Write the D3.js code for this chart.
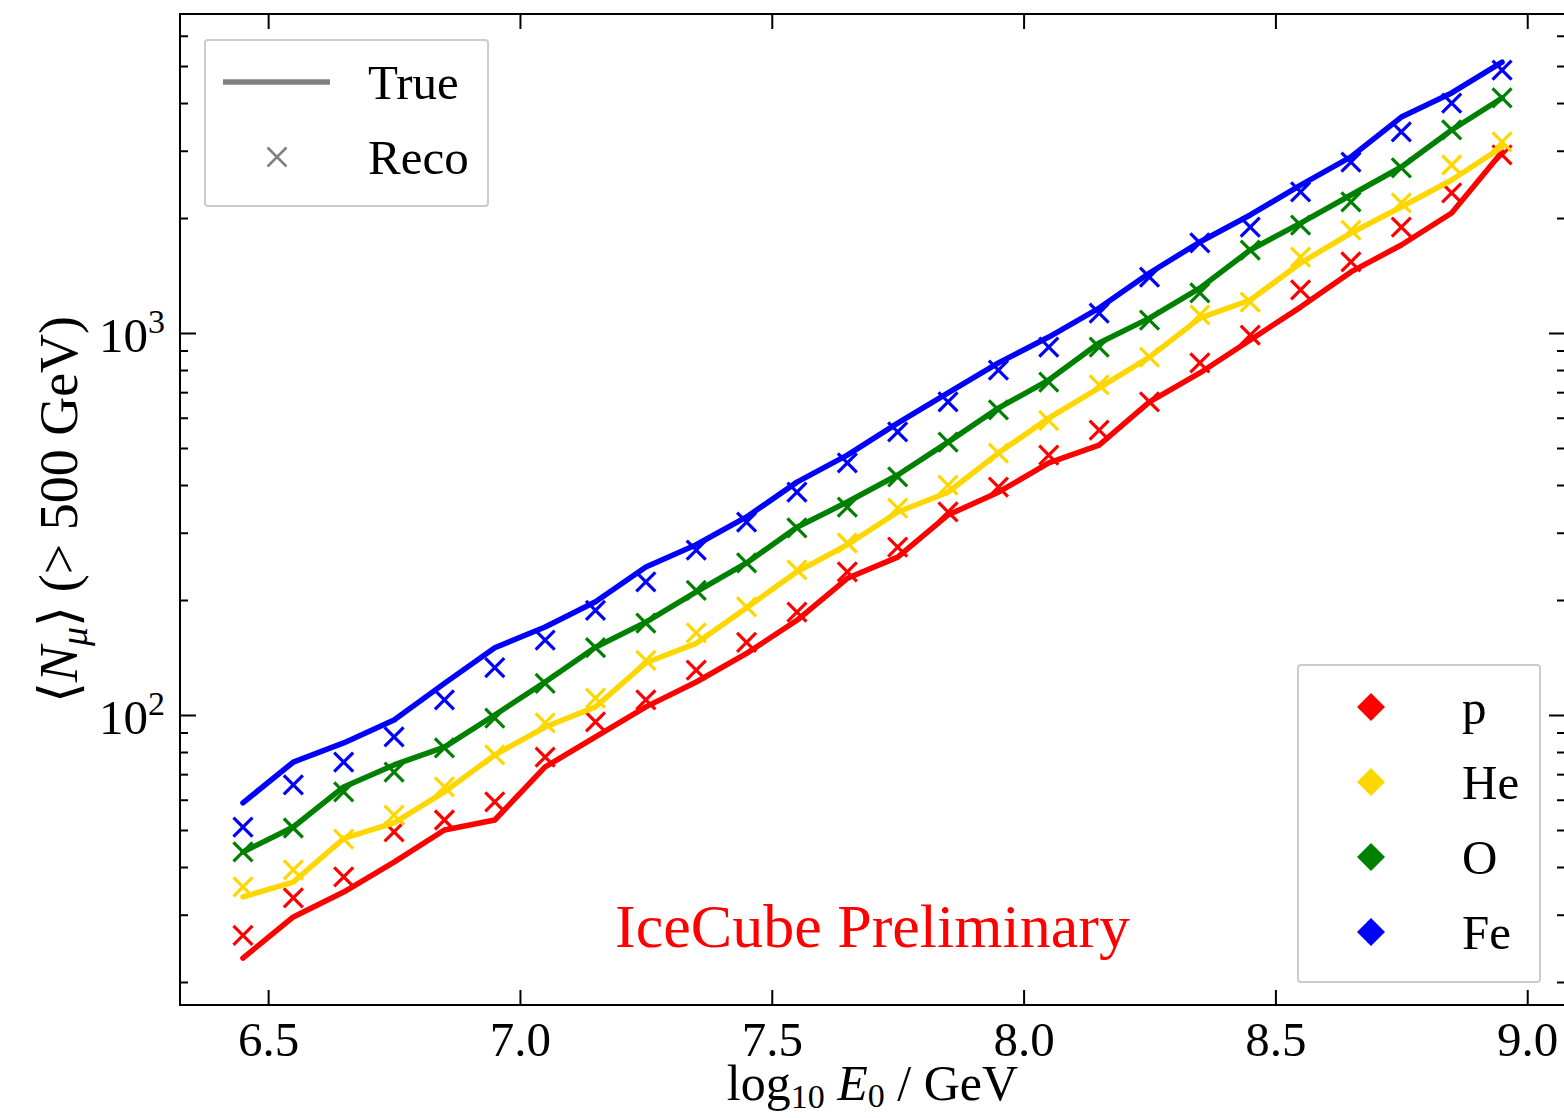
<!DOCTYPE html>
<html>
<head>
<meta charset="utf-8">
<script src="https://cdn.jsdelivr.net/npm/d3@7"></script>
<style>
body { margin: 0; background: #ffffff; }
text { font-family: "Liberation Serif", "DejaVu Serif", serif; fill: #000000; }
</style>
</head>
<body>
<svg id="chart"></svg>
<script>
var width = 1564;
var height = 1118;

var plotLeft = 180, plotRight = 1565, plotTop = 14, plotBottom = 1005;

// energy bins (log10 E0 / GeV)
var logE = [6.45, 6.55, 6.65, 6.75, 6.85, 6.95, 7.05, 7.15, 7.25, 7.35, 7.45, 7.55, 7.65,
	7.75, 7.85, 7.95, 8.05, 8.15, 8.25, 8.35, 8.45, 8.55, 8.65, 8.75, 8.85, 8.95];

// true <N_mu> per primary
var trueP  = [23.1, 29.6, 34.4, 41.2, 50.0, 53.1, 73.1, 87.6, 105, 122, 145, 177, 228,
	259, 334, 383, 457, 509, 660, 786, 959, 1169, 1445, 1700, 2062, 2979];
var trueHe = [33.4, 36.5, 47.5, 52.2, 62.9, 78.6, 93.0, 105, 137, 154, 191, 237, 279,
	340, 383, 485, 599, 718, 865, 1094, 1220, 1525, 1827, 2137, 2515, 3069];
var trueO  = [43.8, 50.9, 64.8, 74.0, 82.4, 100, 122, 150.5, 175, 210, 250, 310, 361,
	425, 518, 636, 753, 942, 1094, 1311, 1649, 1940, 2298, 2720, 3400, 4124];
var trueFe = [58.9, 75.3, 84.5, 97.0, 121, 150, 170, 198, 244, 279, 330, 407, 479,
	581, 697, 835, 976, 1162, 1436, 1731, 2037, 2440, 2891, 3676, 4250, 5120];

// reconstructed <N_mu> per primary
var recoP  = [26.5, 33.2, 37.7, 49.4, 53.1, 59.2, 77.6, 95.9, 109.5, 131, 155, 186, 237,
	275, 340, 395, 479, 557, 660, 835, 988, 1296, 1535, 1894, 2326, 2925];
var recoHe = [35.5, 39.3, 47.3, 54.7, 64.8, 78.6, 95.3, 110.7, 139, 164, 192, 240, 282,
	348, 400, 485, 590, 731, 865, 1115, 1205, 1581, 1860, 2190, 2753, 3165];
var recoO  = [43.8, 50.6, 62.9, 70.9, 82.0, 98.2, 121, 150, 174, 212, 250, 309, 350,
	420, 518, 629, 744, 919, 1081, 1273, 1649, 1917, 2203, 2704, 3400, 4124];
var recoFe = [50.9, 65.6, 75.3, 87.6, 109.5, 133, 157, 188, 223, 270, 320, 383, 457,
	551, 660, 800, 919, 1128, 1401, 1721, 1894, 2340, 2803, 3360, 4000, 4880];

var names = ["p", "He", "O", "Fe"];
var colors = ["#ff0000", "#ffd700", "#008000", "#0000ff"];

var xTicks = [6.5, 7.0, 7.5, 8.0, 8.5, 9.0];
var yMajor = [100, 1000];
var yMinor = [20, 30, 40, 50, 60, 70, 80, 90, 200, 300, 400, 500, 600, 700, 800, 900,
	2000, 3000, 4000, 5000, 6000];

var species = names.map(function (n, i) {
	return {
		name: n,
		color: colors[i],
		trueVals: [trueP, trueHe, trueO, trueFe][i],
		recoVals: [recoP, recoHe, recoO, recoFe][i]
	};
});

var svg = d3.select("#chart")
.attr("width", width)
.attr("height", height);

var x = d3.scaleLinear().domain([6.325, 9.075]).range([plotLeft, plotRight]);
var y = d3.scaleLog().domain([17.41, 6841]).range([plotBottom, plotTop]);

// axes, ticks pointing inward
var gx = svg.append("g")
.attr("transform", "translate(0," + plotBottom + ")")
.call(d3.axisBottom(x).tickValues(xTicks).tickSizeInner(-15).tickSizeOuter(0)
	.tickPadding(16).tickFormat(d3.format(".1f")));

svg.append("g")
.attr("transform", "translate(0," + plotTop + ")")
.call(d3.axisTop(x).tickValues(xTicks).tickSizeInner(-15).tickSizeOuter(0).tickFormat(""));

var gy = svg.append("g")
.attr("transform", "translate(" + plotLeft + ",0)")
.call(d3.axisLeft(y).tickValues(yMajor).tickSizeInner(-16).tickSizeOuter(0).tickPadding(15)
	.tickFormat(function (d) { return "10"; }));

svg.append("g")
.attr("transform", "translate(" + plotLeft + ",0)")
.call(d3.axisLeft(y).tickValues(yMinor).tickSizeInner(-8).tickSizeOuter(0).tickFormat(""));

svg.append("g")
.attr("transform", "translate(" + plotRight + ",0)")
.call(d3.axisRight(y).tickValues(yMajor).tickSizeInner(-16).tickSizeOuter(0).tickFormat(""));

svg.append("g")
.attr("transform", "translate(" + plotRight + ",0)")
.call(d3.axisRight(y).tickValues(yMinor).tickSizeInner(-8).tickSizeOuter(0).tickFormat(""));

svg.selectAll(".domain").remove();
svg.selectAll(".tick line").attr("stroke", "#000").attr("stroke-width", 2);

gx.selectAll("text")
.style("font-size", "49px")
.style("font-family", "'Liberation Serif', serif");

gy.selectAll("text")
.style("font-size", "49px")
.style("font-family", "'Liberation Serif', serif")
.attr("dy", "0.38em")
.each(function (d) {
	var t = d3.select(this);
	t.text("10");
	t.append("tspan")
	.attr("dy", "-0.55em")
	.style("font-size", "34px")
	.text(Math.round(Math.log10(d)));
});

// frame
svg.append("rect")
.attr("x", plotLeft)
.attr("y", plotTop)
.attr("width", plotRight - plotLeft)
.attr("height", plotBottom - plotTop)
.attr("fill", "none")
.attr("stroke", "#000")
.attr("stroke-width", 2);

var line = d3.line()
.x(function (d, i) { return x(logE[i]); })
.y(function (d) { return y(d); });

var xPath = "M-9.5,-9.5L9.5,9.5M-9.5,9.5L9.5,-9.5";

species.forEach(function (s) {
	svg.append("path")
	.datum(s.trueVals)
	.attr("d", line)
	.attr("fill", "none")
	.attr("stroke", s.color)
	.attr("stroke-width", 5.5)
	.attr("stroke-linejoin", "round")
	.attr("stroke-linecap", "round");

	svg.append("g").selectAll("path")
	.data(s.recoVals)
	.enter().append("path")
	.attr("transform", function (d, i) {
		return "translate(" + x(logE[i]) + "," + y(d) + ")";
	})
	.attr("d", xPath)
	.attr("stroke", s.color)
	.attr("stroke-width", 3.2)
	.attr("fill", "none");
});

// IceCube Preliminary
svg.append("text")
.attr("x", (plotLeft + plotRight) / 2)
.attr("y", 947)
.attr("text-anchor", "middle")
.style("font-size", "62px")
.style("fill", "#ff0000")
.text("IceCube Preliminary");

// legend: True / Reco
var leg1 = svg.append("g");
leg1.append("rect")
.attr("x", 205).attr("y", 40)
.attr("width", 283).attr("height", 166)
.attr("rx", 3)
.attr("fill", "#ffffff")
.attr("fill-opacity", 0.8)
.attr("stroke", "#cccccc")
.attr("stroke-width", 2);
leg1.append("line")
.attr("x1", 223).attr("x2", 330)
.attr("y1", 82).attr("y2", 82)
.attr("stroke", "#808080")
.attr("stroke-width", 5.5);
leg1.append("path")
.attr("transform", "translate(277,157)")
.attr("d", xPath)
.attr("stroke", "#808080")
.attr("stroke-width", 2.5)
.attr("fill", "none");
leg1.append("text").attr("x", 368).attr("y", 99)
.style("font-size", "49px").text("True");
leg1.append("text").attr("x", 368).attr("y", 174)
.style("font-size", "49px").text("Reco");

// legend: primaries
var leg2 = svg.append("g");
leg2.append("rect")
.attr("x", 1298).attr("y", 665)
.attr("width", 242).attr("height", 317)
.attr("rx", 3)
.attr("fill", "#ffffff")
.attr("fill-opacity", 0.8)
.attr("stroke", "#cccccc")
.attr("stroke-width", 2);

var legItem = leg2.selectAll("g.item")
.data(species)
.enter().append("g")
.attr("class", "item")
.attr("transform", function (d, i) {
	return "translate(0," + (707 + 75 * i) + ")";
});
legItem.append("path")
.attr("transform", "translate(1371,0)")
.attr("d", "M0,-14L14,0L0,14L-14,0Z")
.attr("fill", function (d) { return d.color; });
legItem.append("text")
.attr("x", 1462)
.attr("y", 17)
.style("font-size", "49px")
.text(function (d) { return d.name; });

// axis labels
var xl = svg.append("text")
.attr("x", (plotLeft + plotRight) / 2)
.attr("y", 1100)
.attr("text-anchor", "middle")
.style("font-size", "50px");
xl.append("tspan").text("log");
xl.append("tspan").attr("dy", 8).style("font-size", "34px").text("10");
xl.append("tspan").attr("dy", -8).text(" ");
xl.append("tspan").style("font-style", "italic").text("E");
xl.append("tspan").attr("dy", 7).style("font-size", "34px").text("0");
xl.append("tspan").attr("dy", -7).text(" / GeV");

var yl = svg.append("text")
.attr("transform", "translate(77," + ((plotTop + plotBottom) / 2) + ") rotate(-90)")
.attr("text-anchor", "middle")
.style("font-size", "54px");
yl.append("tspan").text("\u27E8");
yl.append("tspan").style("font-style", "italic").text("N");
yl.append("tspan").attr("dy", 10).style("font-size", "38px").style("font-style", "italic").text("\u03BC");
yl.append("tspan").attr("dy", -10).text("\u27E9 (> 500 GeV)");
</script>
</body>
</html>
